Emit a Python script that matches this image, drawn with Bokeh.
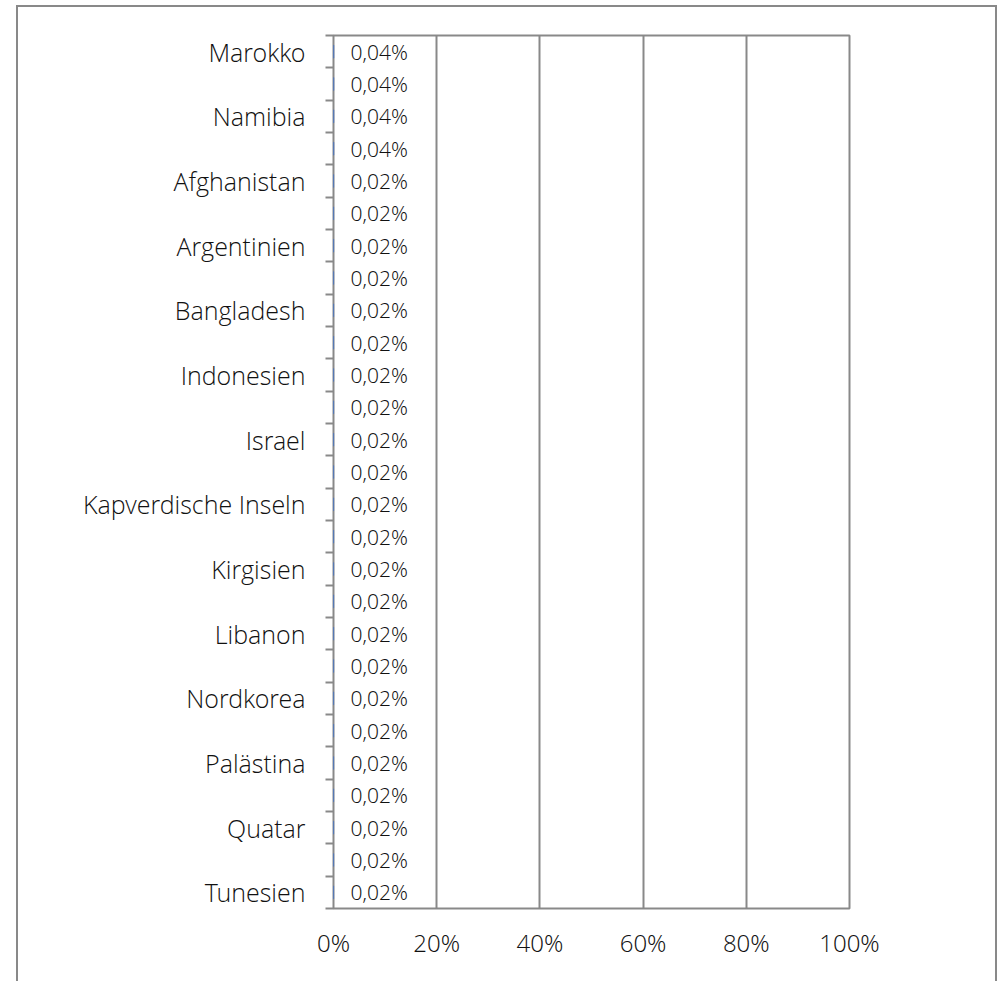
from bokeh.plotting import figure
from bokeh.models import FixedTicker, ColumnDataSource
from bokeh.core.properties import value
from bokeh.embed import file_html
from bokeh.resources import INLINE

# 27 rows; only every other category name is shown on the axis in the original
categories = ["Marokko", "", "Namibia", "", "Afghanistan", "", "Argentinien", "",
              "Bangladesh", "", "Indonesien", "", "Israel", "", "Kapverdische Inseln", "",
              "Kirgisien", "", "Libanon", "", "Nordkorea", "", "Palästina", "",
              "Quatar", "", "Tunesien"]
values = [0.0004, 0.0004, 0.0004, 0.0004] + [0.0002] * 23
value_labels = ["0,04%"] * 4 + ["0,02%"] * 23
x_ticks = [0, 0.2, 0.4, 0.6, 0.8, 1.0]
x_tick_labels = ["0%", "20%", "40%", "60%", "80%", "100%"]

FONT = "'Open Sans Light', 'Open Sans'"
GREY = "#898989"
TXT = "#111111"

n = len(categories)
ypos = [i + 0.5 for i in range(n)]
src = ColumnDataSource(dict(y=ypos, v=values, lab=value_labels))

p = figure(width=981, height=976, output_backend="svg", toolbar_location=None,
           x_range=(0, 1), y_range=(n, 0),
           min_border_left=315, min_border_right=150, min_border_top=28, min_border_bottom=75)
p.styles = {"margin-left": "16px", "margin-top": "5px",
            "border-left": f"2px solid {GREY}", "border-top": f"2px solid {GREY}",
            "border-right": f"2px solid {GREY}"}
p.background_fill_color = "white"
p.border_fill_color = "white"
p.outline_line_color = GREY
p.outline_line_width = 2

p.hbar(y="y", right="v", left=0, height=0.4, source=src, color="#4472C4")
p.text(x=0, y="y", text="lab", source=src, x_offset=17, text_align="left",
       text_baseline="middle", text_font=value(FONT), text_font_size="21px", text_color=TXT)

# y axis
ya = p.yaxis[0]
ya.ticker = FixedTicker(ticks=[y for y, c in zip(ypos, categories) if c],
                        minor_ticks=list(range(n + 1)))
ya.major_label_overrides = {y: c for y, c in zip(ypos, categories) if c}
ya.major_tick_out = 0
ya.major_tick_in = 0
ya.minor_tick_out = 8
ya.minor_tick_in = 0
ya.minor_tick_line_color = GREY
ya.minor_tick_line_width = 2
ya.axis_line_color = None
ya.major_label_text_font = FONT
ya.major_label_text_font_size = "25px"
ya.major_label_text_color = TXT
ya.major_label_standoff = 20

# x axis
xa = p.xaxis[0]
xa.ticker = FixedTicker(ticks=x_ticks, minor_ticks=[])
xa.major_label_overrides = {t: l for t, l in zip(x_ticks, x_tick_labels)}
xa.major_tick_out = 0
xa.major_tick_in = 0
xa.axis_line_color = None
xa.major_label_text_font = FONT
xa.major_label_text_font_size = "24px"
xa.major_label_text_color = TXT
xa.major_label_standoff = 17

p.ygrid.visible = False
p.xgrid.grid_line_color = GREY
p.xgrid.grid_line_width = 2

open("out.html", "w").write(file_html(p, INLINE))
